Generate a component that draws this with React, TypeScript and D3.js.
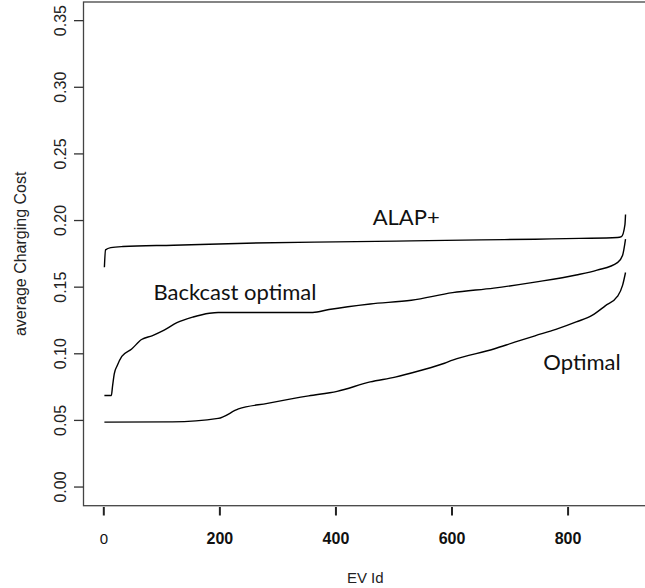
import React from 'react';
import * as d3 from 'd3';

// EV id vs average charging cost
const alapIds = [1, 3, 12, 33, 120, 246, 400, 530, 650, 743, 820, 885, 892, 898, 899];
const alapCost = [0.165, 0.178, 0.1797, 0.1805, 0.1815, 0.183, 0.184, 0.1847, 0.1855, 0.186, 0.1866, 0.1873, 0.188, 0.197, 0.2045];

const backcastIds = [1, 13, 15, 18, 23, 31, 48, 65, 83, 104, 126, 154, 182, 197, 360, 388, 459, 530, 601, 672, 743, 814, 850, 885, 894, 899];
const backcastCost = [0.0687, 0.0687, 0.0755, 0.085, 0.091, 0.098, 0.1036, 0.1107, 0.1135, 0.1177, 0.1233, 0.1276, 0.1304, 0.131, 0.131, 0.1332, 0.1374, 0.1402, 0.1459, 0.1493, 0.1538, 0.1591, 0.1628, 0.1684, 0.174, 0.186];

const optimalIds = [1, 118, 197, 232, 282, 353, 402, 459, 502, 544, 587, 601, 672, 708, 743, 779, 814, 842, 864, 885, 894, 899];
const optimalCost = [0.0487, 0.0489, 0.0515, 0.0586, 0.0628, 0.0684, 0.0718, 0.0789, 0.0825, 0.0873, 0.0929, 0.0952, 0.1036, 0.1087, 0.1135, 0.1183, 0.1239, 0.129, 0.136, 0.143, 0.1515, 0.161];

const xTicks = [0, 200, 400, 600, 800];
const yTicks = [0, 0.05, 0.1, 0.15, 0.2, 0.25, 0.3, 0.35];

const seriesLabels = [
  { text: 'ALAP+', id: 521, cost: 0.1967 },
  { text: 'Backcast optimal', id: 226, cost: 0.1404 },
  { text: 'Optimal', id: 824, cost: 0.0878 },
];

const W = 645;
const H = 588;

export default function App() {
  const x = d3.scaleLinear().domain([-35, 936]).range([83.5, 647]);
  const y = d3.scaleLinear().domain([-0.014, 0.364]).range([505.7, 2]);

  const line = d3
    .line<[number, number]>()
    .x((d) => x(d[0]))
    .y((d) => y(d[1]))
    .curve(d3.curveMonotoneX);

  const series = [
    d3.zip(alapIds, alapCost) as [number, number][],
    d3.zip(backcastIds, backcastCost) as [number, number][],
    d3.zip(optimalIds, optimalCost) as [number, number][],
  ];

  const axisFont = '"Liberation Sans", Arial, sans-serif';

  return (
    <svg
      width={W}
      height={H}
      style={{ position: 'absolute', left: 0, top: 0, background: '#fff' }}
    >
      {/* plot box */}
      <rect
        x={x(-35)}
        y={y(0.364)}
        width={x(936) - x(-35)}
        height={y(-0.014) - y(0.364)}
        fill="none"
        stroke="#444"
        strokeWidth={1.3}
      />

      {series.map((s, i) => (
        <path key={i} d={line(s) || ''} fill="none" stroke="#000" strokeWidth={1.4} />
      ))}

      {/* y axis */}
      {yTicks.map((t) => (
        <g key={t}>
          <line x1={74} x2={x(-35)} y1={y(t)} y2={y(t)} stroke="#333" strokeWidth={1.3} />
          <text
            transform={`translate(66,${y(t)}) rotate(-90)`}
            textAnchor="middle"
            fontFamily={axisFont}
            fontSize={16}
            fill="#222"
          >
            {t.toFixed(2)}
          </text>
        </g>
      ))}
      <text
        transform={`translate(26,${(y(0.364) + y(-0.014)) / 2}) rotate(-90)`}
        textAnchor="middle"
        fontFamily={axisFont}
        fontSize={16}
        fill="#222"
      >
        average Charging Cost
      </text>

      {/* x axis */}
      {xTicks.map((t) => (
        <g key={t}>
          <line x1={x(t)} x2={x(t)} y1={507} y2={515.5} stroke="#222" strokeWidth={2} />
          <text
            x={x(t)}
            y={544}
            textAnchor="middle"
            fontFamily={axisFont}
            fontSize={t === 0 ? 15 : 16}
            fontWeight={t === 0 ? 'normal' : 'bold'}
            fill="#111"
          >
            {t}
          </text>
        </g>
      ))}
      <text
        x={(x(-35) + x(936)) / 2}
        y={583}
        textAnchor="middle"
        fontFamily={axisFont}
        fontSize={15}
        fill="#222"
      >
        EV Id
      </text>

      {seriesLabels.map((l) => (
        <text
          key={l.text}
          x={x(l.id)}
          y={y(l.cost)}
          textAnchor="middle"
          fontFamily="Lato, 'Open Sans', sans-serif"
          fontSize={22}
          fill="#111"
        >
          {l.text}
        </text>
      ))}
    </svg>
  );
}
